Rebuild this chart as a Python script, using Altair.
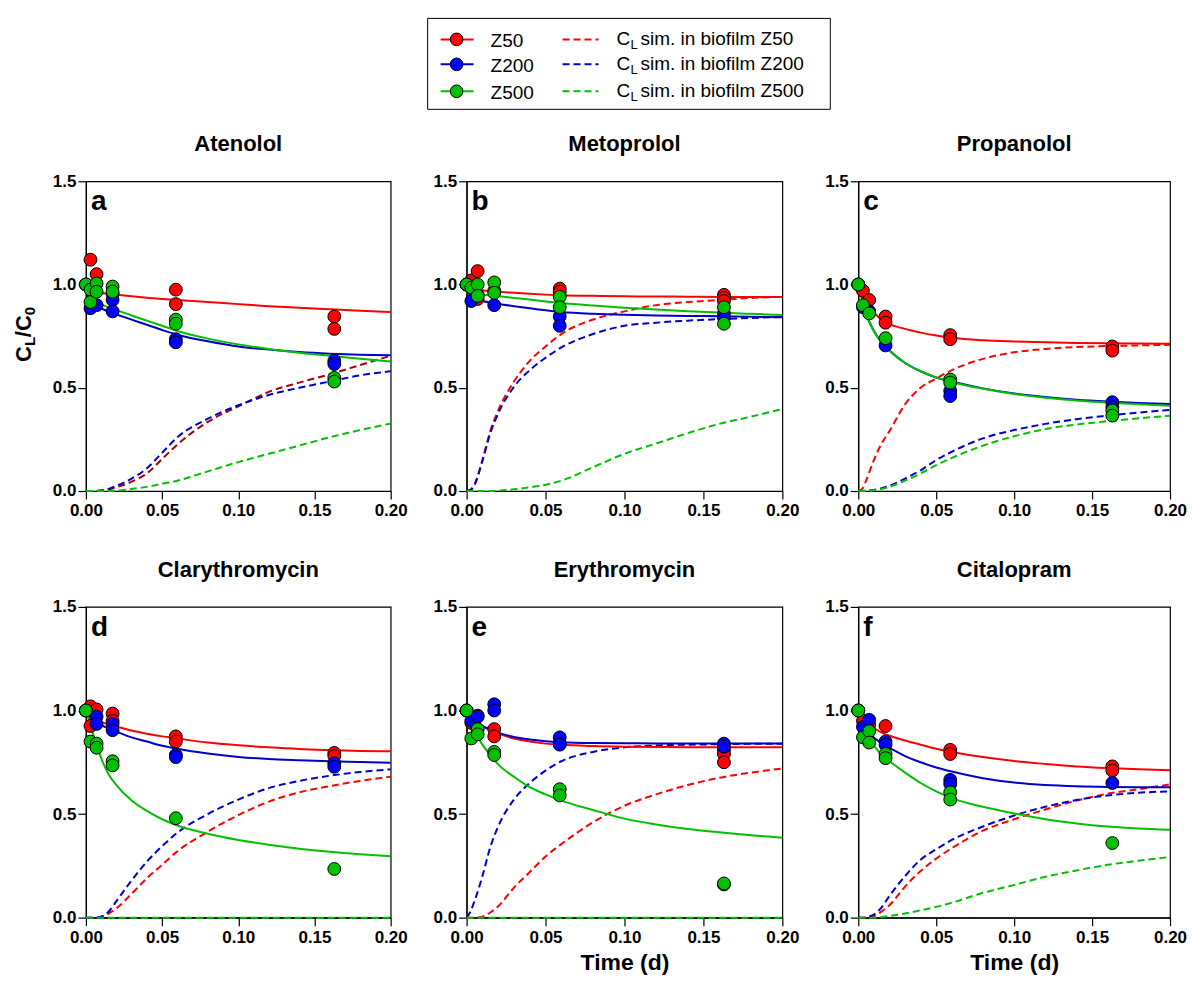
import altair as alt
import pandas as pd

FONT = "Liberation Sans"

# ---------------- data ----------------
T_GRID = [0.0, 0.0025, 0.005, 0.01, 0.015, 0.02, 0.03, 0.04, 0.05, 0.06,
          0.08, 0.10, 0.12, 0.14, 0.16, 0.18, 0.20]
X_TICKS = [0.0, 0.05, 0.10, 0.15, 0.20]
Y_TICKS = [0.0, 0.5, 1.0, 1.5]
SERIES = ["Z50", "Z200", "Z500"]
COMPOUNDS = ["Atenolol", "Metoprolol", "Propanolol",
             "Clarythromycin", "Erythromycin", "Citalopram"]
LETTERS = ["a", "b", "c", "d", "e", "f"]

# measured points: series -> (times, values)
PTS_A = {
    "Z50": ([0, 0.003, 0.007, 0.0175, 0.059, 0.059, 0.163, 0.163],
            [1.0, 1.12, 1.05, 0.955, 0.975, 0.905, 0.845, 0.785]),
    "Z200": ([0, 0.003, 0.007, 0.0175, 0.0175, 0.059, 0.059, 0.163, 0.163],
             [1.0, 0.885, 0.9, 0.925, 0.87, 0.735, 0.72, 0.63, 0.615]),
    "Z500": ([0, 0.003, 0.003, 0.007, 0.007, 0.0175, 0.0175, 0.059, 0.059, 0.163, 0.163],
             [1.0, 0.975, 0.915, 1.005, 0.965, 0.99, 0.965, 0.83, 0.81, 0.548, 0.53]),
}
PTS_B = {
    "Z50": ([0, 0.003, 0.007, 0.007, 0.0175, 0.059, 0.059, 0.163, 0.163, 0.163],
            [1.0, 1.02, 1.065, 0.93, 0.97, 0.98, 0.965, 0.95, 0.935, 0.92]),
    "Z200": ([0, 0.003, 0.007, 0.0175, 0.059, 0.059, 0.163, 0.163],
             [1.0, 0.92, 0.95, 0.9, 0.845, 0.80, 0.86, 0.84]),
    "Z500": ([0, 0.003, 0.007, 0.007, 0.0175, 0.0175, 0.059, 0.059, 0.163, 0.163],
             [1.0, 0.985, 1.0, 0.945, 1.01, 0.96, 0.94, 0.89, 0.89, 0.81]),
}
PTS_C = {
    "Z50": ([0, 0.003, 0.007, 0.0175, 0.0175, 0.059, 0.059, 0.163, 0.163],
            [1.0, 0.97, 0.925, 0.845, 0.815, 0.755, 0.735, 0.70, 0.68]),
    "Z200": ([0, 0.003, 0.007, 0.0175, 0.059, 0.059, 0.163, 0.163],
             [1.0, 0.89, 0.87, 0.705, 0.485, 0.46, 0.43, 0.405]),
    "Z500": ([0, 0.003, 0.007, 0.0175, 0.059, 0.059, 0.163, 0.163],
             [1.0, 0.9, 0.86, 0.74, 0.54, 0.525, 0.39, 0.365]),
}
PTS_D = {
    "Z50": ([0, 0.003, 0.003, 0.007, 0.0175, 0.0175, 0.059, 0.059, 0.163, 0.163],
            [1.0, 1.02, 0.925, 1.005, 0.985, 0.95, 0.875, 0.85, 0.795, 0.78]),
    "Z200": ([0, 0.007, 0.007, 0.0175, 0.0175, 0.059, 0.059, 0.163, 0.163],
             [1.0, 0.97, 0.935, 0.935, 0.905, 0.785, 0.775, 0.745, 0.728]),
    "Z500": ([0, 0.003, 0.007, 0.007, 0.0175, 0.0175, 0.059, 0.163],
             [1.0, 0.85, 0.84, 0.82, 0.755, 0.735, 0.48, 0.235]),
}
PTS_E = {
    "Z50": ([0, 0.003, 0.007, 0.0175, 0.0175, 0.059, 0.163, 0.163, 0.163],
            [1.0, 0.94, 0.975, 0.91, 0.875, 0.84, 0.81, 0.79, 0.75]),
    "Z200": ([0, 0.003, 0.007, 0.0175, 0.0175, 0.059, 0.059, 0.163, 0.163],
             [1.0, 0.95, 0.97, 1.03, 1.0, 0.87, 0.835, 0.84, 0.825]),
    "Z500": ([0, 0.003, 0.007, 0.007, 0.0175, 0.0175, 0.059, 0.059, 0.163, 0.163],
             [1.0, 0.865, 0.91, 0.885, 0.80, 0.785, 0.62, 0.59, 0.16, 0.165]),
}
PTS_F = {
    "Z50": ([0, 0.003, 0.007, 0.0175, 0.059, 0.059, 0.163, 0.163],
            [1.0, 0.95, 0.93, 0.925, 0.81, 0.79, 0.73, 0.71]),
    "Z200": ([0, 0.003, 0.007, 0.0175, 0.0175, 0.059, 0.059, 0.163],
             [1.0, 0.92, 0.955, 0.85, 0.835, 0.665, 0.645, 0.65]),
    "Z500": ([0, 0.003, 0.007, 0.007, 0.0175, 0.0175, 0.059, 0.059, 0.163],
             [1.0, 0.87, 0.9, 0.845, 0.79, 0.77, 0.605, 0.57, 0.36]),
}

# fitted bulk curves (solid), values on T_GRID
FIT_A = {
    "Z50": [1.0, 0.975, 0.968, 0.96, 0.955, 0.951, 0.943, 0.936, 0.93, 0.925, 0.915, 0.905, 0.895, 0.887, 0.88, 0.873, 0.867],
    "Z200": [1.0, 0.92, 0.905, 0.885, 0.868, 0.855, 0.83, 0.805, 0.78, 0.757, 0.725, 0.70, 0.685, 0.673, 0.665, 0.66, 0.658],
    "Z500": [1.0, 0.94, 0.925, 0.905, 0.888, 0.876, 0.85, 0.825, 0.8, 0.775, 0.738, 0.71, 0.688, 0.67, 0.655, 0.64, 0.627],
}
FIT_B = {
    "Z50": [1.0, 0.985, 0.978, 0.972, 0.968, 0.965, 0.96, 0.955, 0.951, 0.948, 0.945, 0.943, 0.942, 0.941, 0.94, 0.94, 0.94],
    "Z200": [1.0, 0.94, 0.93, 0.92, 0.912, 0.906, 0.895, 0.885, 0.875, 0.867, 0.858, 0.853, 0.85, 0.848, 0.846, 0.844, 0.842],
    "Z500": [1.0, 0.97, 0.96, 0.952, 0.947, 0.943, 0.935, 0.927, 0.918, 0.91, 0.898, 0.888, 0.879, 0.871, 0.864, 0.858, 0.852],
}
FIT_C = {
    "Z50": [1.0, 0.95, 0.92, 0.865, 0.83, 0.808, 0.785, 0.767, 0.753, 0.742, 0.73, 0.724, 0.72, 0.717, 0.715, 0.714, 0.713],
    "Z200": [1.0, 0.93, 0.86, 0.775, 0.72, 0.68, 0.62, 0.58, 0.55, 0.53, 0.497, 0.472, 0.455, 0.442, 0.433, 0.426, 0.421],
    "Z500": [1.0, 0.93, 0.86, 0.775, 0.72, 0.68, 0.62, 0.58, 0.55, 0.528, 0.495, 0.47, 0.452, 0.438, 0.428, 0.42, 0.413],
}
FIT_D = {
    "Z50": [1.0, 0.975, 0.962, 0.945, 0.932, 0.922, 0.903, 0.888, 0.875, 0.865, 0.845, 0.832, 0.822, 0.814, 0.809, 0.805, 0.803],
    "Z200": [1.0, 0.965, 0.95, 0.93, 0.913, 0.898, 0.87, 0.85, 0.83, 0.815, 0.792, 0.776, 0.766, 0.76, 0.755, 0.751, 0.748],
    "Z500": [1.0, 0.94, 0.88, 0.77, 0.69, 0.64, 0.565, 0.515, 0.475, 0.445, 0.405, 0.375, 0.352, 0.333, 0.318, 0.306, 0.296],
}
FIT_E = {
    "Z50": [1.0, 0.96, 0.945, 0.925, 0.905, 0.888, 0.865, 0.85, 0.84, 0.834, 0.828, 0.825, 0.824, 0.823, 0.823, 0.823, 0.823],
    "Z200": [1.0, 0.96, 0.945, 0.925, 0.908, 0.893, 0.872, 0.86, 0.852, 0.847, 0.843, 0.842, 0.841, 0.841, 0.841, 0.841, 0.841],
    "Z500": [1.0, 0.95, 0.90, 0.835, 0.785, 0.74, 0.68, 0.63, 0.595, 0.565, 0.52, 0.478, 0.45, 0.428, 0.412, 0.398, 0.386],
}
FIT_F = {
    "Z50": [1.0, 0.96, 0.94, 0.915, 0.893, 0.878, 0.855, 0.835, 0.815, 0.8, 0.775, 0.756, 0.742, 0.73, 0.722, 0.716, 0.712],
    "Z200": [1.0, 0.93, 0.9, 0.87, 0.84, 0.82, 0.78, 0.75, 0.725, 0.705, 0.673, 0.652, 0.64, 0.634, 0.631, 0.63, 0.63],
    "Z500": [1.0, 0.92, 0.875, 0.83, 0.785, 0.755, 0.7, 0.65, 0.61, 0.577, 0.535, 0.503, 0.475, 0.455, 0.44, 0.43, 0.424],
}

# simulated concentration in biofilm (dashed), values on T_GRID
BIO_A = {
    "Z50": [0, 0, 0, 0.002, 0.008, 0.018, 0.045, 0.085, 0.155, 0.225, 0.335, 0.41, 0.48, 0.525, 0.565, 0.61, 0.655],
    "Z200": [0, 0, 0, 0.003, 0.01, 0.025, 0.06, 0.11, 0.185, 0.26, 0.35, 0.415, 0.465, 0.50, 0.53, 0.56, 0.58],
    "Z500": [0, 0, 0, 0, 0, 0.002, 0.01, 0.02, 0.035, 0.05, 0.095, 0.14, 0.18, 0.22, 0.26, 0.295, 0.327],
}
BIO_B = {
    "Z50": [0, 0.005, 0.03, 0.15, 0.29, 0.39, 0.53, 0.63, 0.70, 0.76, 0.83, 0.87, 0.90, 0.915, 0.925, 0.935, 0.94],
    "Z200": [0, 0.005, 0.03, 0.145, 0.28, 0.375, 0.505, 0.585, 0.645, 0.695, 0.76, 0.80, 0.815, 0.825, 0.832, 0.838, 0.843],
    "Z500": [0, 0, 0, 0, 0, 0.002, 0.008, 0.018, 0.03, 0.05, 0.115, 0.18, 0.23, 0.28, 0.325, 0.36, 0.397],
}
BIO_C = {
    "Z50": [0, 0.01, 0.05, 0.15, 0.23, 0.29, 0.42, 0.50, 0.545, 0.585, 0.64, 0.672, 0.688, 0.697, 0.702, 0.705, 0.708],
    "Z200": [0, 0, 0.001, 0.005, 0.013, 0.025, 0.06, 0.10, 0.15, 0.19, 0.255, 0.295, 0.325, 0.348, 0.365, 0.38, 0.393],
    "Z500": [0, 0, 0, 0.004, 0.01, 0.02, 0.05, 0.085, 0.125, 0.16, 0.22, 0.265, 0.30, 0.322, 0.338, 0.352, 0.365],
}
BIO_D = {
    "Z50": [0, 0, 0, 0.005, 0.02, 0.045, 0.115, 0.19, 0.255, 0.32, 0.415, 0.495, 0.56, 0.605, 0.635, 0.66, 0.68],
    "Z200": [0, 0, 0, 0.005, 0.03, 0.08, 0.18, 0.27, 0.345, 0.41, 0.50, 0.57, 0.625, 0.66, 0.685, 0.703, 0.716],
    "Z500": [0, 0, 0, 0, 0, 0, 0, 0, 0, 0, 0, 0, 0, 0, 0, 0, 0],
}
BIO_E = {
    "Z50": [0, 0, 0, 0.005, 0.025, 0.055, 0.145, 0.22, 0.295, 0.355, 0.46, 0.54, 0.595, 0.64, 0.675, 0.70, 0.72],
    "Z200": [0, 0.03, 0.08, 0.2, 0.34, 0.44, 0.57, 0.65, 0.71, 0.755, 0.80, 0.822, 0.831, 0.835, 0.837, 0.839, 0.84],
    "Z500": [0, 0, 0, 0, 0, 0, 0, 0, 0, 0, 0, 0, 0, 0, 0, 0, 0],
}
BIO_F = {
    "Z50": [0, 0, 0, 0.008, 0.03, 0.06, 0.15, 0.225, 0.285, 0.335, 0.42, 0.475, 0.522, 0.565, 0.598, 0.62, 0.643],
    "Z200": [0, 0, 0.002, 0.015, 0.05, 0.105, 0.2, 0.28, 0.33, 0.375, 0.44, 0.493, 0.535, 0.568, 0.59, 0.603, 0.61],
    "Z500": [0, 0, 0, 0, 0.003, 0.008, 0.02, 0.035, 0.052, 0.072, 0.12, 0.158, 0.197, 0.228, 0.255, 0.275, 0.293],
}

POINTS = [PTS_A, PTS_B, PTS_C, PTS_D, PTS_E, PTS_F]
FITS = [FIT_A, FIT_B, FIT_C, FIT_D, FIT_E, FIT_F]
BIOS = [BIO_A, BIO_B, BIO_C, BIO_D, BIO_E, BIO_F]

# ---------------- styles ----------------
POINT_COLORS = ["#ff0000", "#0000ff", "#00c000"]
FIT_COLORS = ["#ff0000", "#0000c8", "#00c000"]
BIO_COLORS = ["#ff0000", "#0000c8", "#00c000"]
BIO_COLORS_A = ["#a80000", "#0000c8", "#00c000"]
COL_W = [305, 316, 312]
ROW_H = [310, 311]
DASH = [7, 4]


def one():
    return pd.DataFrame({"k": [0]})


def legend_layers():
    layers = [
        alt.Chart(one()).mark_rect(fillOpacity=0, stroke="black", strokeWidth=1).encode(
            x=alt.value(-39), x2=alt.value(364), y=alt.value(-163), y2=alt.value(-72))
    ]
    row_y = [-142, -117, -90]
    for r, s in enumerate(SERIES):
        yv = row_y[r]
        layers.append(alt.Chart(one()).mark_rule(color=FIT_COLORS[r], strokeWidth=2).encode(
            x=alt.value(-26), x2=alt.value(7), y=alt.value(yv)))
        layers.append(alt.Chart(one()).mark_circle(
            size=160, fill=POINT_COLORS[r], stroke="black", strokeWidth=1, opacity=1).encode(
            x=alt.value(-10), y=alt.value(yv)))
        layers.append(alt.Chart(one()).mark_text(
            font=FONT, fontSize=19, align="left", baseline="middle", color="black").encode(
            x=alt.value(24), y=alt.value(yv + 2), text=alt.value(s)))
        layers.append(alt.Chart(one()).mark_rule(
            color=BIO_COLORS[r], strokeWidth=2, strokeDash=DASH).encode(
            x=alt.value(96), x2=alt.value(132), y=alt.value(yv)))
        layers.append(alt.Chart(one()).mark_text(
            font=FONT, fontSize=19, align="left", baseline="middle", color="black").encode(
            x=alt.value(150), y=alt.value(yv), text=alt.value("C")))
        layers.append(alt.Chart(one()).mark_text(
            font=FONT, fontSize=13, align="left", baseline="middle", color="black").encode(
            x=alt.value(164), y=alt.value(yv + 6), text=alt.value("L")))
        layers.append(alt.Chart(one()).mark_text(
            font=FONT, fontSize=19, align="left", baseline="middle", color="black").encode(
            x=alt.value(174), y=alt.value(yv), text=alt.value("sim. in biofilm " + s)))
    return layers


def ytitle_layers():
    parts = [("C", 22, -55, 181), ("L", 15, -51, 165), ("/C", 22, -55, 156), ("0", 15, -51, 134)]
    out = []
    for txt, fs, xv, yv in parts:
        out.append(alt.Chart(one()).mark_text(
            font=FONT, fontSize=fs, fontWeight="bold", angle=270, align="left",
            baseline="alphabetic", color="black").encode(
            x=alt.value(xv), y=alt.value(yv), text=alt.value(txt)))
    return out


def make_panel(idx):
    pts, fit, bio = POINTS[idx], FITS[idx], BIOS[idx]
    width, height = COL_W[idx % 3], ROW_H[idx // 3]
    pdf = pd.DataFrame([{"t": t, "v": v, "s": s}
                        for s in SERIES for t, v in zip(pts[s][0], pts[s][1])])
    fdf = pd.DataFrame([{"t": t, "v": v, "s": s}
                        for s in SERIES for t, v in zip(T_GRID, fit[s])])
    bdf = pd.DataFrame([{"t": t, "v": v, "s": s}
                        for s in SERIES for t, v in zip(T_GRID, bio[s])])

    if idx in (4, 5):
        xaxis = alt.Axis(values=X_TICKS, format=".2f", title="Time (d)", labelFlush=False)
    else:
        xaxis = alt.Axis(values=X_TICKS, format=".2f", title=None, labelFlush=False)
    x = alt.X("t:Q", scale=alt.Scale(domain=[0, 0.2], nice=False, zero=False), axis=xaxis)
    y = alt.Y("v:Q", scale=alt.Scale(domain=[0, 1.5], nice=False),
              axis=alt.Axis(values=Y_TICKS, format=".1f", title=None, labelFlush=False))

    fit_layer = alt.Chart(fdf).mark_line(strokeWidth=2, interpolate="monotone").encode(
        x=x, y=y,
        color=alt.Color("s:N", scale=alt.Scale(domain=SERIES, range=FIT_COLORS), legend=None))
    bio_cols = BIO_COLORS_A if idx == 0 else BIO_COLORS
    bio_layer = alt.Chart(bdf).mark_line(strokeWidth=2, strokeDash=DASH, interpolate="monotone").encode(
        x=x, y=y,
        color=alt.Color("s:N", scale=alt.Scale(domain=SERIES, range=bio_cols), legend=None))
    pt_layer = alt.Chart(pdf).mark_circle(size=165, opacity=1, stroke="black", strokeWidth=1).encode(
        x=x, y=y,
        fill=alt.Fill("s:N", scale=alt.Scale(domain=SERIES, range=POINT_COLORS), legend=None))
    letter = alt.Chart(pd.DataFrame({"lab": [LETTERS[idx]]})).mark_text(
        font=FONT, fontSize=28, fontWeight="bold", align="left", baseline="alphabetic",
        color="black").encode(x=alt.value(5), y=alt.value(29), text="lab:N")
    title = alt.Chart(pd.DataFrame({"name": [COMPOUNDS[idx]]})).mark_text(
        font=FONT, fontSize=22, fontWeight="bold", align="center", baseline="alphabetic",
        color="black").encode(x=alt.value(width / 2), y=alt.value(-30), text="name:N")

    layers = [bio_layer, fit_layer, pt_layer, letter, title]
    if idx == 0:
        layers += ytitle_layers()
    if idx == 1:
        layers += legend_layers()

    return alt.layer(*layers).resolve_scale(color="independent").properties(
        width=width, height=height)


panels = [make_panel(i) for i in range(6)]

chart = alt.concat(
    *panels, columns=3, spacing={"row": 116, "column": 76}, bounds="flush"
).properties(
    padding={"left": 12, "top": 16, "right": 4, "bottom": 4}
).configure_view(
    stroke="black", strokeWidth=1.2
).configure_axis(
    domainColor="black", domainWidth=1.2, tickColor="black", tickWidth=1.2, tickSize=8,
    labelFont=FONT, labelFontSize=17, labelFontWeight="bold", labelColor="black",
    grid=False, titleFont=FONT, titleFontSize=23, titleFontWeight="bold", titleColor="black"
).configure_axisX(
    labelPadding=4, titlePadding=6
).configure_axisY(
    labelPadding=2
)

chart.save("out.html", embed_options={"renderer": "svg", "actions": False})
